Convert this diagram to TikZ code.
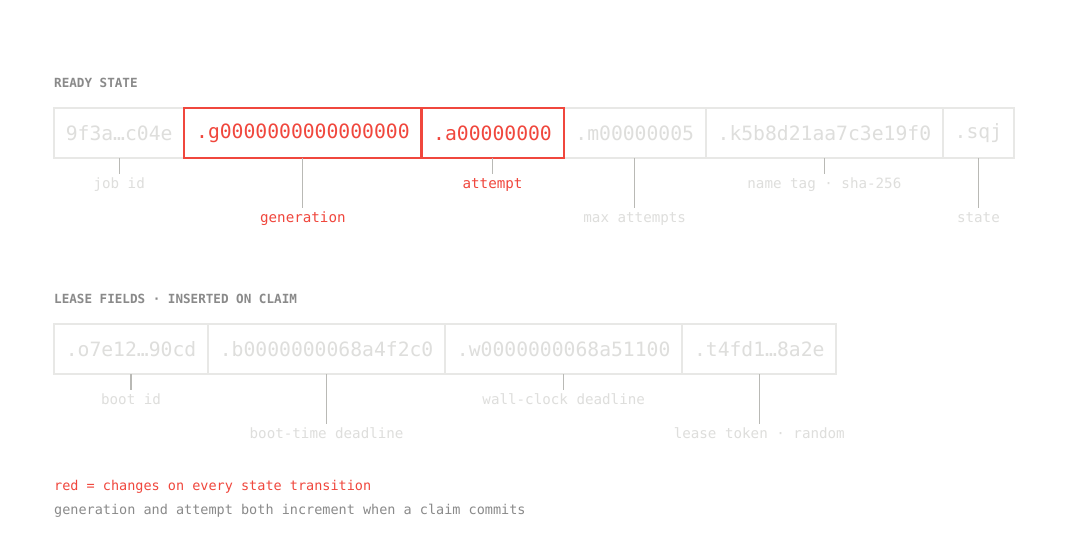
\documentclass[tikz,border=0pt]{standalone}
\usepackage{fontspec}
\setmainfont{DejaVu Sans Mono}
\usetikzlibrary{positioning}
\definecolor{hot}{HTML}{F0473D}
\definecolor{dim}{HTML}{DEDEDC}
\definecolor{frame}{HTML}{E8E8E6}
\definecolor{leadgray}{HTML}{B9B9B5}
\definecolor{note}{HTML}{8A8A8A}
\tikzset{cell/.style={draw=frame, line width=2pt, minimum height=50pt, inner xsep=11.8pt, outer sep=0pt, text=dim, font=\fontsize{19.7}{22}\selectfont}}
\tikzset{hotcell/.style={cell, text=hot}}
\tikzset{tag/.style={text=dim, inner xsep=0pt, inner ysep=4.5pt, text height=10pt, text depth=3pt, font=\fontsize{14.2}{16}\selectfont}}
\tikzset{hottag/.style={tag, text=hot}}
\tikzset{lead/.style={leadgray, line width=1.2pt}}
\tikzset{hotframe/.style={hot, line width=2.2pt}}
\tikzset{head/.style={note, inner sep=0pt, anchor=west, font=\fontsize{12.6}{14}\selectfont\bfseries}}
\tikzset{foot/.style={inner sep=0pt, anchor=west, font=\fontsize{13.5}{15}\selectfont}}

\begin{document}
\begin{tikzpicture}[x=1pt, y=-1pt]
            \fill [white] (0,0) rectangle (1080,540);
            \useasboundingbox (0,0) rectangle (1080,540);
            % ready state
            \node[head] (ready) at (54,83) {READY STATE};
            \node[cell, anchor=west] (jobid) at (54,133) {9f3a…c04e};
            \node[hotcell, right=0pt of jobid] (gen) {.g0000000000000000};
            \node[hotcell, right=0pt of gen] (att) {.a00000000};
            \node[cell, right=0pt of att] (maxatt) {.m00000005};
            \node[cell, right=0pt of maxatt] (name) {.k5b8d21aa7c3e19f0};
            \node[cell, right=0pt of name] (state) {.sqj};
            \foreach \c in {gen, att}
                \draw[hotframe] (\c.south west) rectangle (\c.north east);
            \node[tag, below=16pt of jobid] (jobid-l) {job id};
            \node[hottag, below=50pt of gen] (gen-l) {generation};
            \node[hottag, below=16pt of att] (att-l) {attempt};
            \node[tag, below=50pt of maxatt] (maxatt-l) {max attempts};
            \node[tag, below=16pt of name] (name-l) {name tag · sha-256};
            \node[tag, below=50pt of state] (state-l) {state};
            % lease fields
            \node[head] (lease) at (54,299) {LEASE FIELDS · INSERTED ON CLAIM};
            \node[cell, anchor=west] (boot) at (54,349) {.o7e12…90cd};
            \node[cell, right=0pt of boot] (btime) {.b0000000068a4f2c0};
            \node[cell, right=0pt of btime] (wall) {.w0000000068a51100};
            \node[cell, right=0pt of wall] (token) {.t4fd1…8a2e};
            \node[tag, below=16pt of boot] (boot-l) {boot id};
            \node[tag, below=50pt of btime] (btime-l) {boot-time deadline};
            \node[tag, below=16pt of wall] (wall-l) {wall-clock deadline};
            \node[tag, below=50pt of token] (token-l) {lease token · random};
            \foreach \c in {jobid, gen, att, maxatt, name, state, boot, btime, wall, token}
                \draw[lead] (\c.south) -- (\c-l.north);
            % key
            \node[foot, text=hot] (key) at (54,487) {red = changes on every state transition};
            \node[foot, text=note] (keynote) at (54,511) {generation and attempt both increment when a claim commits};
        \end{tikzpicture}
\end{document}
